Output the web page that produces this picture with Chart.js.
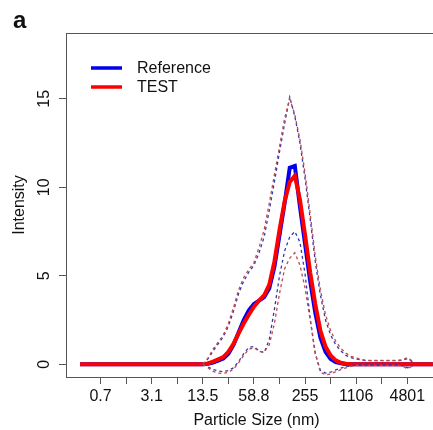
<!DOCTYPE html>
<html>
<head>
<meta charset="utf-8">
<title>Particle size distribution</title>
<script src="https://cdn.jsdelivr.net/npm/chart.js@4"></script>
<style>
  html, body { margin: 0; padding: 0; background: #fff; overflow: hidden; }
  #wrap { position: relative; width: 480px; height: 430px; }
</style>
</head>
<body>
<div id="wrap"><canvas id="chart"></canvas></div>
<script>
// x axis = size class number (0..69), labelled with the class diameter in nm
const tickPositions = [4, 9, 14, 19, 24, 29, 34, 39, 44, 49, 54, 59, 64];
const tickLabels = ['0.7', '', '3.1', '', '13.5', '', '58.8', '', '255', '', '1106', '', '4801'];
const yTicks = [0, 5, 10, 15];
const seriesNames = ['Reference', 'TEST'];

// mean intensity per size class
const referenceMean = [
  0, 0, 0, 0, 0, 0, 0, 0, 0, 0,
  0, 0, 0, 0, 0, 0, 0, 0, 0, 0,
  0, 0, 0, 0, 0, 0.03, 0.1, 0.2, 0.32, 0.6,
  1.1, 1.8, 2.5, 3.05, 3.4, 3.6, 3.8, 4.3, 5.5, 7.3,
  9.1, 11.1, 11.2, 8.9, 6.8, 4.7, 2.9, 1.5, 0.7, 0.3,
  0.12, 0.05, 0, 0, 0, 0, 0, 0, 0, 0,
  0, 0, 0, 0, 0, 0, 0, 0, 0, 0
];
const testMean = [
  0, 0, 0, 0, 0, 0, 0, 0, 0, 0,
  0, 0, 0, 0, 0, 0, 0, 0, 0, 0,
  0, 0, 0, 0, 0, 0.05, 0.15, 0.28, 0.4, 0.7,
  1.15, 1.75, 2.3, 2.8, 3.25, 3.6, 3.9, 4.5, 5.8, 7.6,
  9.2, 10.3, 10.65, 9.3, 7.3, 5.2, 3.4, 1.9, 1.0, 0.5,
  0.22, 0.08, 0.03, 0, 0, 0, 0, 0, 0, 0,
  0, 0, 0, 0, 0, 0, 0, 0, 0, 0
];

// upper / lower bands (dashed)
const referenceUpper = [
  null, null, null, null, null, null, null, null, null, null,
  null, null, null, null, null, null, null, null, null, null,
  null, null, null, null, 0, 0.3, 0.75, 1.15, 1.55, 2.15,
  3.0, 4.0, 4.7, 5.2, 5.6, 6.3, 7.2, 8.7, 10.3, 12.0,
  13.6, 15.1, 14.0, 12.5, 10.5, 8.2, 5.8, 3.9, 2.5, 1.65,
  1.1, 0.75, 0.5, 0.38, 0.3, 0.24, 0.2, 0.2, 0.2, 0.2,
  0.2, 0.2, 0.2, 0.22, 0.32, 0.15, null, null, null, null
];
const testUpper = [
  null, null, null, null, null, null, null, null, null, null,
  null, null, null, null, null, null, null, null, null, null,
  null, null, null, null, 0, 0.35, 0.85, 1.25, 1.65, 2.3,
  3.2, 4.2, 4.9, 5.35, 5.75, 6.6, 7.6, 9.1, 10.7, 12.3,
  13.9, 15.0, 14.1, 12.7, 10.8, 8.5, 6.1, 4.2, 2.8, 1.9,
  1.3, 0.9, 0.62, 0.45, 0.35, 0.28, 0.22, 0.22, 0.22, 0.22,
  0.22, 0.22, 0.22, 0.25, 0.38, 0.18, null, null, null, null
];
const referenceLower = [
  null, null, null, null, null, null, null, null, null, null,
  null, null, null, null, null, null, null, null, null, null,
  null, null, null, null, 0, -0.15, -0.3, -0.38, -0.42, -0.35,
  -0.2, 0.15, 0.6, 0.95, 1.0, 0.75, 0.65, 1.4, 3.1, 5.0,
  6.4, 7.2, 7.5, 6.9, 5.1, 2.6, 0.6, -0.35, -0.5, -0.45,
  -0.32, -0.22, -0.14, -0.08, -0.04, -0.04, -0.04, -0.04, -0.04, -0.04,
  -0.04, -0.04, -0.04, -0.08, -0.2, -0.1, null, null, null, null
];
const testLower = [
  null, null, null, null, null, null, null, null, null, null,
  null, null, null, null, null, null, null, null, null, null,
  null, null, null, null, 0, -0.2, -0.4, -0.5, -0.52, -0.45,
  -0.28, 0.08, 0.5, 0.85, 0.95, 0.72, 0.7, 1.1, 2.3, 4.0,
  5.4, 6.0, 6.3, 5.6, 4.3, 2.5, 0.6, -0.45, -0.6, -0.55,
  -0.42, -0.3, -0.2, -0.12, -0.06, -0.06, -0.06, -0.06, -0.06, -0.06,
  -0.06, -0.06, -0.06, -0.1, -0.25, -0.12, null, null, null, null
];

const FONT = "'Liberation Sans', Arial, sans-serif";
const BLUE = '#0000ee';
const RED = '#ff0000';
const BLUE_DASH = 'rgb(55, 55, 175)';
const RED_DASH = 'rgb(190, 75, 75)';

function points(values) {
  return values.map((v, i) => ({ x: i, y: v }));
}

function solid(label, values, color, order) {
  return {
    label: label,
    data: points(values),
    borderColor: color,
    borderWidth: 4,
    pointRadius: 0,
    tension: 0,
    spanGaps: false,
    order: order
  };
}

function dashed(label, values, color, order) {
  return {
    label: label,
    data: points(values),
    borderColor: color,
    borderWidth: 1.3,
    borderDash: [3, 3],
    pointRadius: 0,
    tension: 0,
    spanGaps: false,
    order: order
  };
}

// frame, rotated y tick labels, panel letter and the legend box
const decorations = {
  id: 'decorations',
  afterDraw(chart) {
    const { ctx, chartArea: a, scales: { y } } = chart;
    ctx.save();
    ctx.strokeStyle = '#555';
    ctx.lineWidth = 1;
    ctx.strokeRect(Math.round(a.left) + 0.5, Math.round(a.top) + 0.5,
      Math.round(a.right - a.left), Math.round(a.bottom - a.top));

    ctx.fillStyle = '#111';
    ctx.font = '16px ' + FONT;
    ctx.textAlign = 'center';
    ctx.textBaseline = 'middle';
    yTicks.forEach(v => {
      ctx.save();
      ctx.translate(45, y.getPixelForValue(v));
      ctx.rotate(-Math.PI / 2);
      ctx.fillText(String(v), 0, 0);
      ctx.restore();
    });

    ctx.font = 'bold 24px ' + FONT;
    ctx.textAlign = 'left';
    ctx.textBaseline = 'alphabetic';
    ctx.fillText('a', 13, 28);

    const colors = [BLUE, RED];
    ctx.font = '16px ' + FONT;
    ctx.textBaseline = 'middle';
    seriesNames.forEach((name, i) => {
      const ly = 68 + i * 19;
      ctx.strokeStyle = colors[i];
      ctx.lineWidth = 3.5;
      ctx.beginPath();
      ctx.moveTo(91, ly);
      ctx.lineTo(122, ly);
      ctx.stroke();
      ctx.fillStyle = '#111';
      ctx.fillText(name, 137, ly + 1);
    });
    ctx.restore();
  }
};

new Chart(document.getElementById('chart'), {
  type: 'line',
  data: {
    datasets: [
      dashed('Reference upper', referenceUpper, BLUE_DASH, 3),
      dashed('TEST upper', testUpper, RED_DASH, 2),
      dashed('Reference lower', referenceLower, BLUE_DASH, 1),
      dashed('TEST lower', testLower, RED_DASH, 0),
      solid(seriesNames[0], referenceMean, BLUE, 5),
      solid(seriesNames[1], testMean, RED, 4)
    ]
  },
  options: {
    responsive: true,
    maintainAspectRatio: false,
    animation: false,
    layout: { padding: { top: 33, right: 33, bottom: 0, left: 0 } },
    plugins: {
      legend: { display: false },
      tooltip: { enabled: false }
    },
    scales: {
      x: {
        type: 'linear',
        min: -2.76,
        max: 71.76,
        afterBuildTicks: scale => { scale.ticks = tickPositions.map(v => ({ value: v })); },
        afterFit: scale => { scale.height = 53; },
        border: { display: false },
        grid: { drawOnChartArea: false, drawTicks: true, tickLength: 7, color: '#555' },
        ticks: {
          autoSkip: false,
          maxRotation: 0,
          padding: 3,
          color: '#111',
          font: { family: FONT, size: 16 },
          callback: (value, index) => tickLabels[index]
        },
        title: {
          display: true,
          text: 'Particle Size (nm)',
          color: '#111',
          font: { family: FONT, size: 16 },
          padding: { top: 0, bottom: 0 }
        }
      },
      y: {
        type: 'linear',
        min: -0.72,
        max: 18.72,
        afterBuildTicks: scale => { scale.ticks = yTicks.map(v => ({ value: v })); },
        afterFit: scale => { scale.width = 66; },
        border: { display: false },
        grid: { drawOnChartArea: false, drawTicks: true, tickLength: 7, color: '#555' },
        ticks: { display: false },
        title: {
          display: true,
          text: 'Intensity',
          color: '#111',
          font: { family: FONT, size: 16 },
          padding: { top: 10, bottom: 0 }
        }
      }
    }
  },
  plugins: [decorations]
});
</script>
</body>
</html>
